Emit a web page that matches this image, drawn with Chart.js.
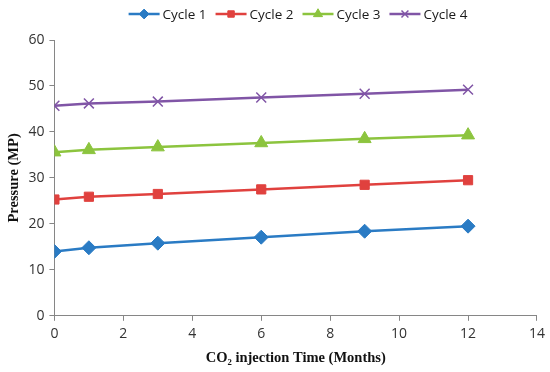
<!DOCTYPE html>
<html>
<head>
<meta charset="utf-8">
<script src="https://cdn.jsdelivr.net/npm/chart.js@4"></script>
<style>
  html, body { margin: 0; padding: 0; background: #fff; }
  #wrap { width: 550px; height: 372px; position: relative; }
</style>
</head>
<body>
<div id="wrap"><canvas id="chart" width="550" height="372"></canvas></div>
<script>
const months = [0, 1, 3, 6, 9, 12];
const cycle1 = [14.0, 14.8, 15.8, 17.1, 18.4, 19.5];
const cycle2 = [25.3, 25.9, 26.5, 27.5, 28.5, 29.5];
const cycle3 = [35.6, 36.1, 36.7, 37.6, 38.5, 39.3];
const cycle4 = [45.7, 46.2, 46.6, 47.5, 48.3, 49.2];
const seriesNames = ['Cycle 1', 'Cycle 2', 'Cycle 3', 'Cycle 4'];

const colors = ['#2A7BC4', '#E0413E', '#8CC43E', '#8055A6'];
const markers = ['rectRot', 'rect', 'triangle', 'crossRot'];
const markerSizes = [7, 6.5, 7.5, 7];

function toPoints(values) {
  return months.map((m, i) => ({ x: m, y: values[i] }));
}

const datasets = [cycle1, cycle2, cycle3, cycle4].map((values, i) => ({
  label: seriesNames[i],
  data: toPoints(values),
  borderColor: colors[i],
  backgroundColor: colors[i],
  borderWidth: 2.5,
  pointStyle: markers[i],
  pointRadius: markerSizes[i],
  pointBorderWidth: i === 3 ? 1.5 : 1,
  pointBorderColor: colors[i],
  pointBackgroundColor: colors[i],
  tension: 0,
}));

// legend drawn by hand so each entry shows line + marker like the original
const topLegend = {
  id: 'topLegend',
  afterDraw(chart) {
    const ctx = chart.ctx;
    ctx.save();
    ctx.font = '13.5px "Open Sans", sans-serif';
    ctx.textBaseline = 'middle';
    const y = 14;
    const lineW = 31;
    const gap = 9;
    const widths = chart.data.datasets.map((ds) => lineW + 3 + ctx.measureText(ds.label).width);
    const total = widths.reduce((a, b) => a + b, 0) + gap * (widths.length - 1);
    let x = 298 - total / 2;
    chart.data.datasets.forEach((ds, i) => {
      ctx.strokeStyle = ds.borderColor;
      ctx.lineWidth = 2.5;
      ctx.beginPath();
      ctx.moveTo(x, y);
      ctx.lineTo(x + lineW, y);
      ctx.stroke();
      ctx.fillStyle = ds.backgroundColor;
      ctx.lineWidth = ds.pointBorderWidth;
      Chart.helpers.drawPoint(ctx, {
        pointStyle: ds.pointStyle,
        radius: ds.pointRadius * 0.7,
        borderWidth: ds.pointBorderWidth,
        rotation: 0,
      }, x + lineW / 2, y);
      ctx.fillStyle = '#1a1a1a';
      ctx.fillText(ds.label, x + lineW + 3, y + 1);
      x += widths[i] + gap;
    });
    ctx.restore();
  },
};

new Chart(document.getElementById('chart'), {
  type: 'line',
  data: { datasets },
  options: {
    responsive: false,
    animation: false,
    layout: { padding: { top: 40, right: 12, bottom: 5, left: 6 } },
    plugins: {
      legend: { display: false },
      tooltip: { enabled: false },
    },
    scales: {
      x: {
        type: 'linear',
        min: 0,
        max: 14,
        ticks: {
          stepSize: 2,
          color: '#333',
          font: { family: '"Open Sans", sans-serif', size: 14 },
          padding: 5,
        },
        grid: { drawOnChartArea: false, color: '#868686', tickLength: 5 },
        border: { color: '#868686', width: 1 },
        title: {
          display: true,
          text: 'CO\u2082 injection Time (Months)',
          color: '#111',
          font: { family: '"Liberation Serif", serif', size: 14.5, weight: 'bold' },
          padding: { top: 2, bottom: 0 },
        },
      },
      y: {
        min: 0,
        max: 60,
        ticks: {
          stepSize: 10,
          color: '#333',
          font: { family: '"Open Sans", sans-serif', size: 14 },
          padding: 5,
        },
        grid: { drawOnChartArea: false, color: '#868686', tickLength: 5 },
        border: { color: '#868686', width: 1 },
        title: {
          display: true,
          text: 'Pressure (MP)',
          color: '#111',
          font: { family: '"Liberation Serif", serif', size: 14.5, weight: 'bold' },
          padding: { top: 0, bottom: 0 },
        },
      },
    },
  },
  plugins: [topLegend],
});
</script>
</body>
</html>
